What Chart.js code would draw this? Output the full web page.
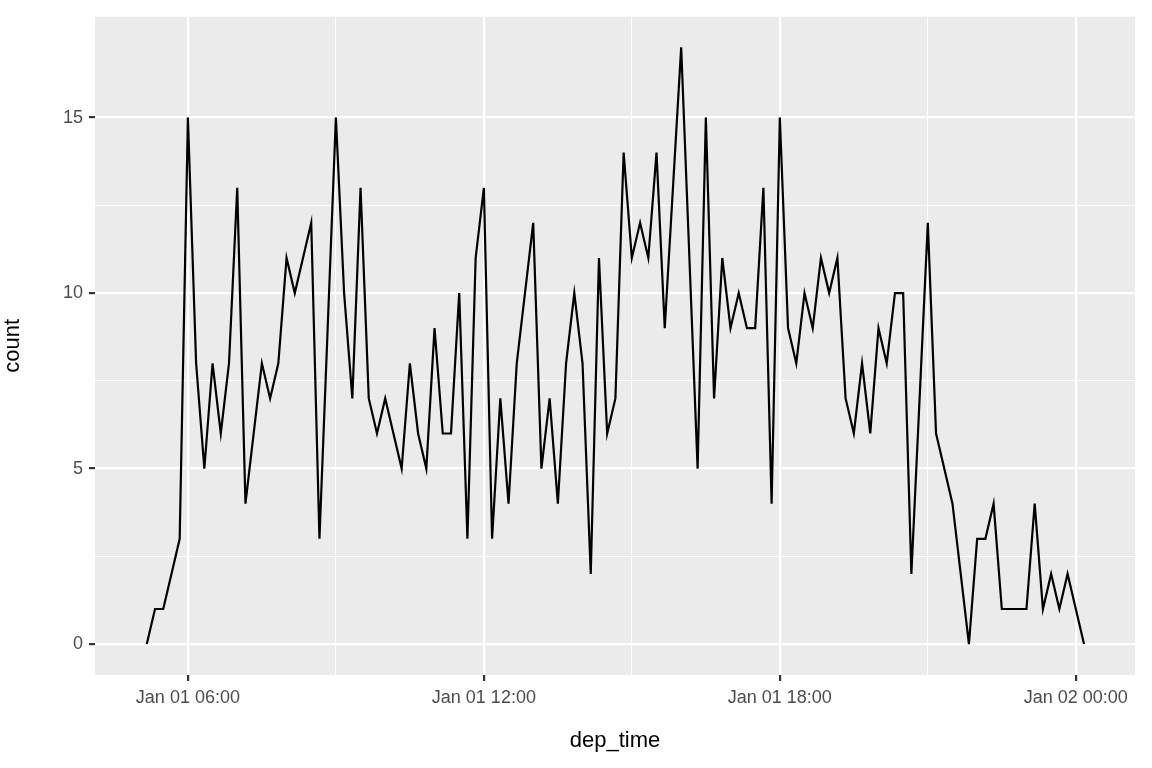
<!DOCTYPE html>
<html><head><meta charset="utf-8">
<script src="https://cdn.jsdelivr.net/npm/chart.js@4"></script>
<style>html,body{margin:0;padding:0;background:#fff}#w{width:1152px;height:768px}</style>
</head><body><div id="w"><canvas id="c" width="1152" height="768"></canvas></div>
<script>
// bins of 10 minutes starting Jan 01 05:10 (minutes since Jan 01 00:00)
const binStart = 310;
const binWidth = 10;
const counts = [0,1,1,2,3,15,8,5,8,6,8,13,4,6,8,7,8,11,10,11,12,3,9,15,10,7,13,7,6,7,6,5,8,6,5,9,6,6,10,3,11,13,3,7,4,8,10,12,5,7,4,8,10,8,2,11,6,7,14,11,12,11,14,9,13,17,11,5,15,7,11,9,10,9,9,13,4,15,9,8,10,9,11,10,11,7,6,8,6,9,8,10,10,2,7,12,6,5,4,2,0,3,3,4,1,1,1,1,4,1,2,1,2,1,0];
const xMajor = [360,720,1080,1440];
const xMajorLabels = ['Jan 01 06:00','Jan 01 12:00','Jan 01 18:00','Jan 02 00:00'];
const xMinor = [540,900,1260];
const yMajor = [0,5,10,15];
const yMinor = [2.5,7.5,12.5];

const pts = counts.map((v,i)=>({x: binStart + i*binWidth, y: v}));
const bg = {id:'bg', beforeDraw(ch){const a=ch.chartArea,c=ch.ctx;c.save();c.fillStyle='#EBEBEB';c.fillRect(a.left,a.top,a.right-a.left,a.bottom-a.top);c.restore();}};
const isMaj = (arr,v)=>arr.includes(v);
new Chart(document.getElementById('c'),{
 type:'line',
 data:{datasets:[{data:pts,borderColor:'#000',borderWidth:2.2,pointRadius:0,tension:0,fill:false}]},
 plugins:[bg],
 options:{responsive:false,animation:false,
  layout:{padding:{left:0,right:17,top:15,bottom:0}},
  plugins:{legend:{display:false},tooltip:{enabled:false}},
  scales:{
   x:{type:'linear',min:247,max:1512,
    afterBuildTicks(s){s.ticks=[...xMinor,...xMajor].sort((a,b)=>a-b).map(v=>({value:v}));},
    afterFit(s){s.height=93;},
    ticks:{autoSkip:false,maxRotation:0,padding:6,color:'#4D4D4D',font:{family:'Liberation Sans, Arial',size:18},
      callback:(v)=>{const k=xMajor.indexOf(v);return k>=0?xMajorLabels[k]:'';}},
    grid:{color:'#fff',lineWidth:c=>isMaj(xMajor,c.tick&&c.tick.value)?2.2:1.1,
      tickColor:c=>isMaj(xMajor,c.tick&&c.tick.value)?'#333':'rgba(0,0,0,0)',tickLength:6,drawOnChartArea:true},
    border:{display:false},
    title:{display:true,text:'dep_time',color:'#000',font:{family:'Liberation Sans, Arial',size:22},padding:{top:4,bottom:14}}},
   y:{type:'linear',min:-0.88,max:17.87,
    afterBuildTicks(s){s.ticks=[...yMajor,...yMinor].sort((a,b)=>a-b).map(v=>({value:v}));},
    afterFit(s){s.width=95;},
    ticks:{autoSkip:false,padding:6,color:'#4D4D4D',font:{family:'Liberation Sans, Arial',size:18},
      callback:(v)=>yMajor.includes(v)?String(v):''},
    grid:{color:'#fff',lineWidth:c=>isMaj(yMajor,c.tick&&c.tick.value)?2.2:1.1,
      tickColor:c=>isMaj(yMajor,c.tick&&c.tick.value)?'#333':'rgba(0,0,0,0)',tickLength:6},
    border:{display:false},
    title:{display:true,text:'count',color:'#000',font:{family:'Liberation Sans, Arial',size:22},padding:{top:0,bottom:8}}}
  }}
});
</script></body></html>
